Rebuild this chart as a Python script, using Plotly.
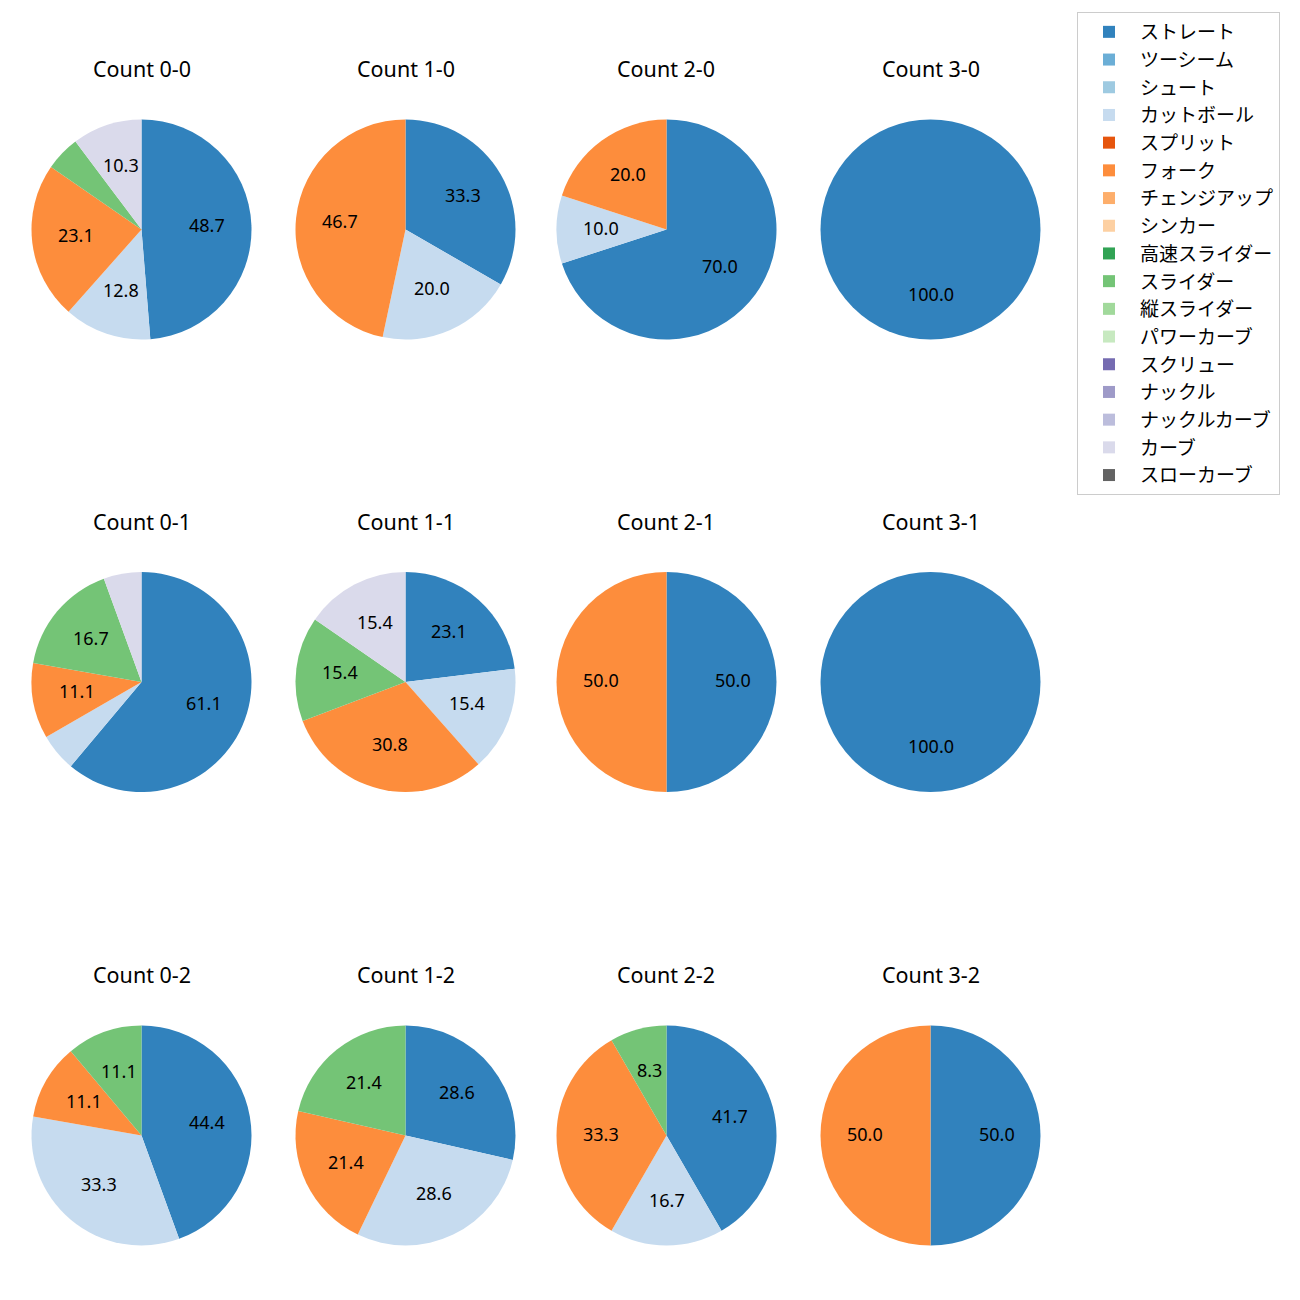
import math
import plotly.graph_objects as go

pitch_types = ["ストレート", "ツーシーム", "シュート", "カットボール", "スプリット", "フォーク",
               "チェンジアップ", "シンカー", "高速スライダー", "スライダー", "縦スライダー",
               "パワーカーブ", "スクリュー", "ナックル", "ナックルカーブ", "カーブ", "スローカーブ"]
colors = ["#3182bd", "#6baed6", "#9ecae1", "#c6dbef", "#e6550d", "#fd8d3c", "#fdae6b", "#fdd0a2",
          "#31a354", "#74c476", "#a1d99b", "#c7e9c0", "#756bb1", "#9e9ac8", "#bcbddc", "#dadaeb",
          "#636363"]

counts = ["0-0", "1-0", "2-0", "3-0", "0-1", "1-1", "2-1", "3-1", "0-2", "1-2", "2-2", "3-2"]

# pitch counts per count situation
straight = [19, 5, 7, 1, 11, 3, 1, 1, 4, 4, 5, 1]
cutter   = [5, 3, 1, 0, 1, 2, 0, 0, 3, 4, 2, 0]
fork     = [9, 7, 2, 0, 2, 4, 1, 0, 1, 3, 4, 1]
slider   = [2, 0, 0, 0, 3, 2, 0, 0, 1, 3, 1, 0]
curve    = [4, 0, 0, 0, 1, 2, 0, 0, 0, 0, 0, 0]

OFF = 8  # page body margin
col_cx = [141.5 - OFF, 405.5 - OFF, 666.5 - OFF, 930.5 - OFF]
row_cy = [229.5 - OFF, 682 - OFF, 1135.5 - OFF]
R = 110
W = H = 1300
LABEL_FONT = dict(size=18, color="black", family="Noto Sans")

fig = go.Figure()
layout_axes = {}
for k, cnt in enumerate(counts):
    r, c = divmod(k, 4)
    vals = [0] * len(pitch_types)
    vals[pitch_types.index("ストレート")] = straight[k]
    vals[pitch_types.index("カットボール")] = cutter[k]
    vals[pitch_types.index("フォーク")] = fork[k]
    vals[pitch_types.index("スライダー")] = slider[k]
    vals[pitch_types.index("カーブ")] = curve[k]
    tot = sum(vals)
    cx, cy = col_cx[c], row_cy[r]
    dx = [(cx - R) / W, (cx + R) / W]
    dy = [1 - (cy + R) / H, 1 - (cy - R) / H]
    fig.add_trace(go.Pie(
        labels=pitch_types, values=vals, textinfo="none",
        marker=dict(colors=colors, line=dict(width=0)),
        sort=False, direction="clockwise", rotation=0,
        domain=dict(x=dx, y=dy),
        showlegend=(k == 0), hoverinfo="label+percent",
    ))
    ax = "" if k == 0 else str(k + 1)
    layout_axes["xaxis" + ax] = dict(domain=dx, range=[-1, 1], visible=False, fixedrange=True,
                                     anchor="y" + ax)
    layout_axes["yaxis" + ax] = dict(domain=dy, range=[-1, 1], visible=False, fixedrange=True,
                                     anchor="x" + ax)
    # percentage labels at 0.6 radius along each slice bisector
    cum = 0.0
    for v in vals:
        frac = v / tot
        if frac > 0:
            ang = math.radians(90 - 360 * (cum + frac / 2))
            p = 100 * frac
            if p >= 7:
                fig.add_annotation(x=0.6 * math.cos(ang), y=0.6 * math.sin(ang),
                                   xref="x" + ax, yref="y" + ax, text=f"{p:.1f}",
                                   showarrow=False, font=LABEL_FONT, yshift=2,
                                   xanchor="center", yanchor="middle")
        cum += frac
    fig.add_annotation(text=f"Count {cnt}", x=cx / W, y=1 - (68 - OFF + r * 453) / H,
                       xref="paper", yref="paper", showarrow=False,
                       font=dict(size=21.5, color="black", family="Noto Sans"),
                       xanchor="center", yanchor="middle")

fig.update_layout(
    width=W, height=H, margin=dict(l=0, r=0, t=0, b=0),
    paper_bgcolor="white", plot_bgcolor="rgba(0,0,0,0)",
    font=dict(family="Noto Sans CJK JP", color="black"),
    legend=dict(x=(1077 - OFF) / W, y=1 - (12 - OFF) / H, xanchor="left", yanchor="top",
                bgcolor="white", bordercolor="#cccccc", borderwidth=1,
                font=dict(size=19, color="black", family="Noto Sans CJK JP"),
                itemwidth=52, traceorder="normal"),
    **layout_axes,
)
fig.write_html("out.html")
